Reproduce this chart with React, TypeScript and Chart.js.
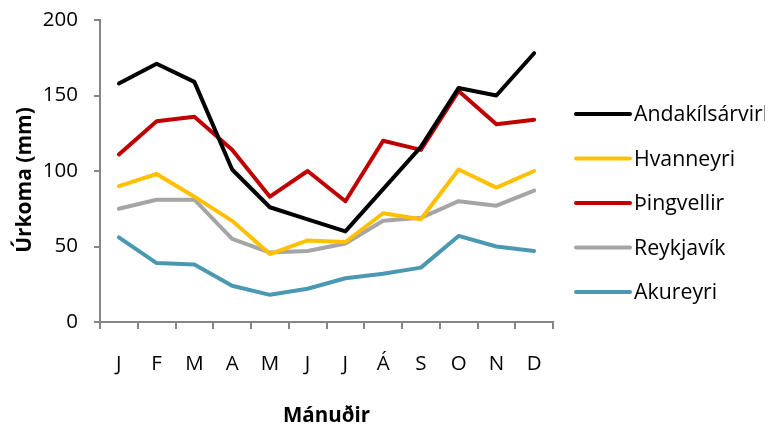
import { useEffect, useRef } from 'react';
import { Chart, registerables } from 'chart.js';

Chart.register(...registerables);

const months = ['J', 'F', 'M', 'A', 'M', 'J', 'J', 'Á', 'S', 'O', 'N', 'D'];
const seriesNames = ['Andakílsárvirkjun', 'Hvanneyri', 'Þingvellir', 'Reykjavík', 'Akureyri'];
const andakilsarvirkjun = [158, 171, 159, 101, 76, 68, 60, 88, 116, 155, 150, 178];
const hvanneyri = [90, 98, 83, 67, 45, 54, 53, 72, 68, 101, 89, 100];
const thingvellir = [111, 133, 136, 114, 83, 100, 80, 120, 114, 153, 131, 134];
const reykjavik = [75, 81, 81, 55, 46, 47, 52, 67, 69, 80, 77, 87];
const akureyri = [56, 39, 38, 24, 18, 22, 29, 32, 36, 57, 50, 47];
const seriesValues = [andakilsarvirkjun, hvanneyri, thingvellir, reykjavik, akureyri];
const seriesColors = ['#000000', '#FFC000', '#C00000', '#A5A5A5', '#4A98B2'];
const yTickStep = 50;
const yMin = 0;
const yMax = 200;
const xTitle = 'Mánuðir';
const yTitle = 'Úrkoma (mm)';

const FONT = "'Open Sans', sans-serif";
const AXIS = '#868686';
const TICK_SIZE = 20.5;

const sideLegend = {
  id: 'sideLegend',
  afterDraw(chart: any) {
    const { ctx, chartArea } = chart;
    ctx.save();
    // y-axis title
    ctx.save();
    ctx.translate(25, (chartArea.top + chartArea.bottom) / 2 + 9);
    ctx.rotate(-Math.PI / 2);
    ctx.fillStyle = '#000';
    ctx.font = `bold 21px ${FONT}`;
    ctx.textAlign = 'center';
    ctx.textBaseline = 'middle';
    ctx.fillText(yTitle, 0, 0);
    ctx.restore();
    // legend
    ctx.beginPath();
    ctx.rect(0, 0, 765, chart.height);
    ctx.clip();
    const x0 = chartArea.right + 23;
    const x1 = x0 + 54;
    chart.data.datasets.forEach((ds: any, i: number) => {
      const y = 114 + i * 44.5;
      ctx.strokeStyle = ds.borderColor;
      ctx.lineWidth = 4;
      ctx.lineCap = 'round';
      ctx.beginPath();
      ctx.moveTo(x0, y);
      ctx.lineTo(x1, y);
      ctx.stroke();
      ctx.fillStyle = '#000';
      ctx.font = `21.3px ${FONT}`;
      ctx.textBaseline = 'middle';
      ctx.textAlign = 'left';
      ctx.fillText(ds.label, x1 + 4, y + 1);
    });
    ctx.restore();
  },
};

export default function App() {
  const ref = useRef<HTMLCanvasElement>(null);
  useEffect(() => {
    if (!ref.current) return;
    const chart = new Chart(ref.current, {
      type: 'line',
      data: {
        labels: months,
        datasets: seriesNames.map((name, i) => ({
          label: name,
          data: seriesValues[i],
          borderColor: seriesColors[i],
          backgroundColor: seriesColors[i],
          borderWidth: 4,
          pointRadius: 0,
          pointHoverRadius: 0,
          tension: 0,
          borderCapStyle: 'round',
          borderJoinStyle: 'round',
          fill: false,
        })),
      },
      options: {
        animation: false,
        responsive: false,
        maintainAspectRatio: false,
        layout: { padding: { top: 20, right: 221, left: 0, bottom: 0 } },
        plugins: { legend: { display: false }, tooltip: { enabled: false } },
        scales: {
          x: {
            offset: true,
            grid: {
              offset: true,
              drawOnChartArea: false,
              drawTicks: true,
              tickLength: 7,
              color: AXIS,
              lineWidth: 2,
            },
            border: { display: true, color: AXIS, width: 2 },
            ticks: {
              color: '#000',
              font: { family: FONT, size: TICK_SIZE },
              padding: 23,
              maxRotation: 0,
              autoSkip: false,
            },
            title: {
              display: true,
              text: xTitle,
              color: '#000',
              font: { family: FONT, size: 20.5, weight: 'bold' },
              padding: { top: 0, bottom: 0 },
            },
            afterFit(scale: any) {
              scale.height = 106;
            },
          },
          y: {
            min: yMin,
            max: yMax,
            grid: {
              drawOnChartArea: false,
              drawTicks: true,
              tickLength: 6,
              color: AXIS,
              lineWidth: 2,
            },
            border: { display: true, color: AXIS, width: 2 },
            ticks: {
              stepSize: yTickStep,
              color: '#000',
              font: { family: FONT, size: TICK_SIZE },
              padding: 16,
            },
            title: { display: false, text: yTitle },
            afterFit(scale: any) {
              scale.width = 100;
              scale.paddingTop = 0;
              scale.paddingBottom = 0;
            },
          },
        },
      },
      plugins: [sideLegend],
    } as any);
    return () => chart.destroy();
  }, []);
  return (
    <div style={{ position: 'absolute', left: 0, top: 0, width: 774, height: 428, background: '#fff' }}>
      <canvas ref={ref} width={774} height={428} />
    </div>
  );
}
